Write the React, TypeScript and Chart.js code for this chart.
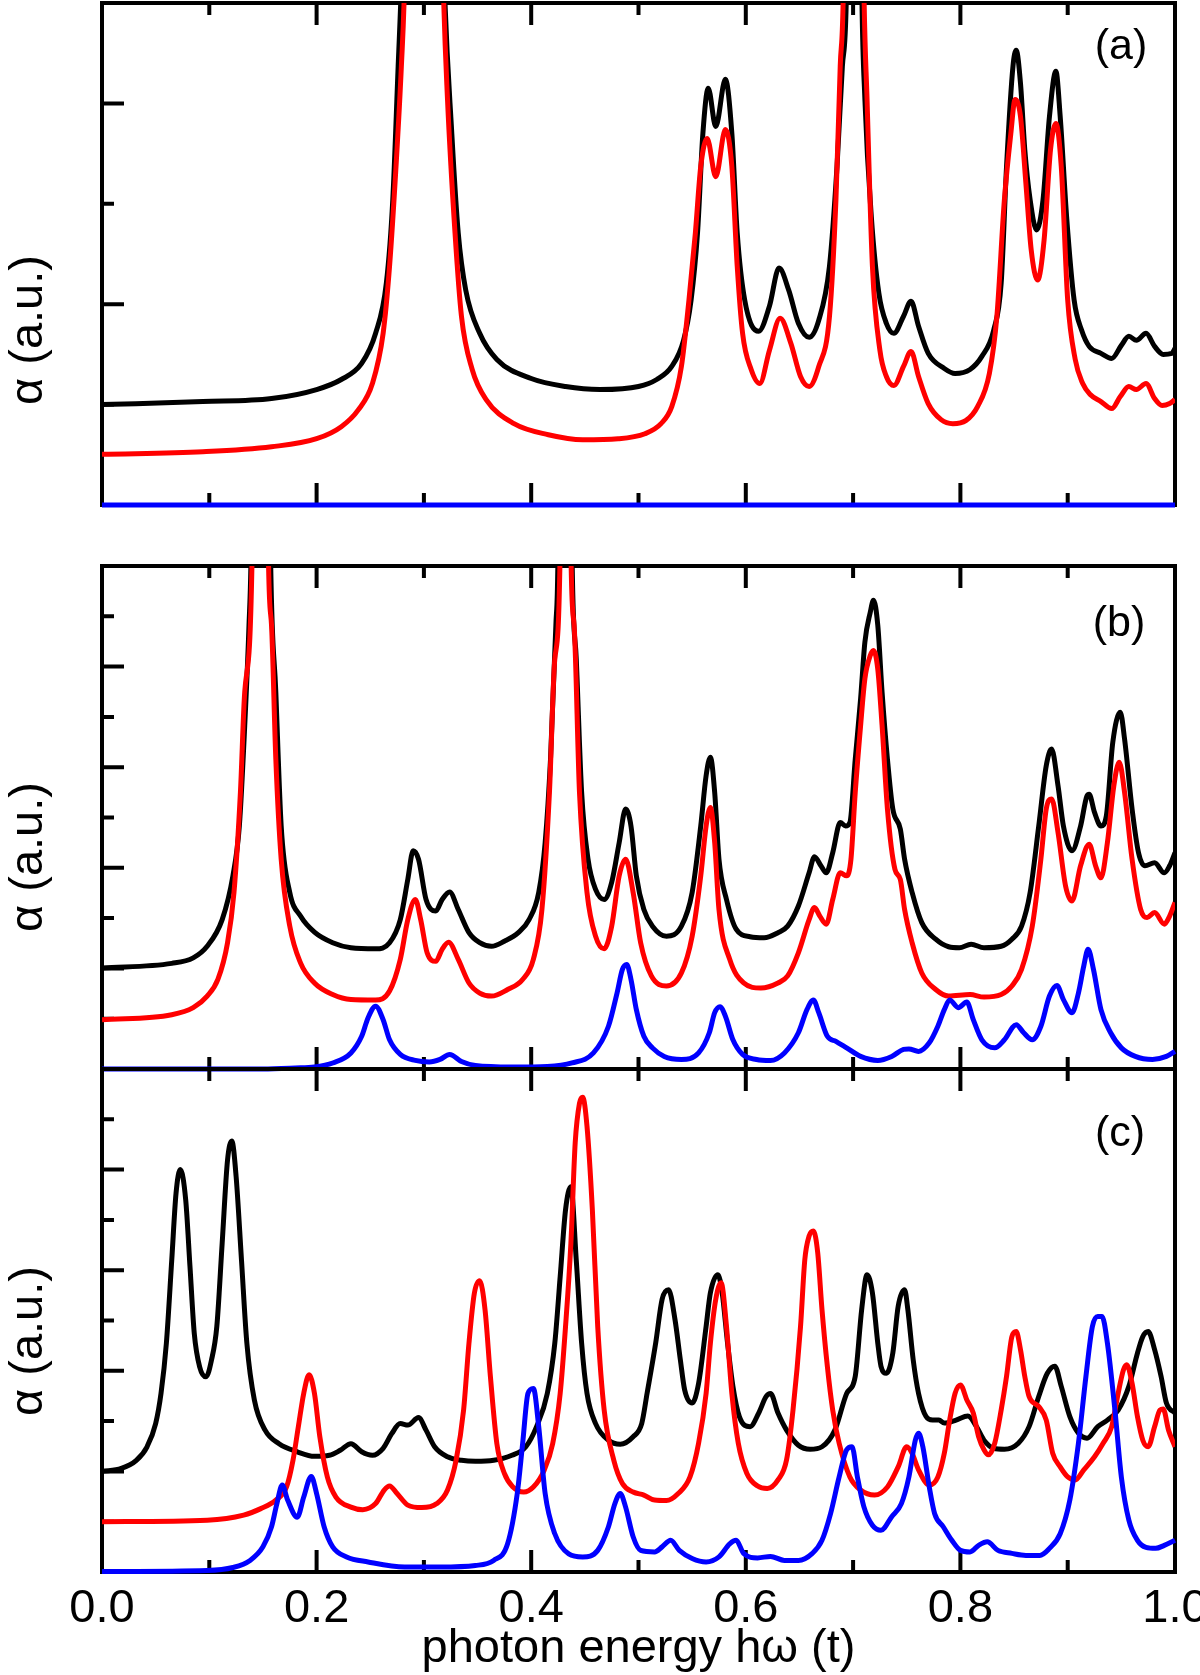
import React, { useEffect, useRef } from 'react';
import { Chart, registerables } from 'chart.js';

Chart.register(...registerables);

type Pt = [number, number];

const FONT = '"Liberation Sans", Arial, Helvetica, sans-serif';
const BLACK = '#000000';
const RED = '#ff0000';
const BLUE = '#0000ff';

// ---------- axis / text content ----------
const X_MAJOR_TICKS = [0, 0.2, 0.4, 0.6, 0.8, 1.0];
const X_MINOR_TICKS = [0.1, 0.3, 0.5, 0.7, 0.9];
const A_Y_TICKS = [1, 2, 3, 4];
const BC_Y_TICKS = [1, 2, 3, 4, 5, 6, 7, 8, 9];
const A_Y_MAX = 5;
const BC_Y_MAX = 10;
const X_TITLE = 'photon energy h\u03c9 (t)';
const Y_TITLE = '\u03b1 (a.u.)';
const PANEL_LABELS = ['(a)', '(b)', '(c)'];

// ---------- panel (a) ----------
const A_BLACK: Pt[] = [
  [0.000, 1.00], [0.094, 1.03], [0.158, 1.06], [0.200, 1.15], [0.223, 1.25], [0.242, 1.41],
  [0.255, 1.71], [0.265, 2.21], [0.271, 3.04], [0.276, 4.37], [0.279, 5.2], [0.299, 14],
  [0.319, 5.2], [0.326, 3.70], [0.332, 2.71], [0.339, 2.14], [0.352, 1.71], [0.368, 1.45],
  [0.400, 1.26], [0.432, 1.18], [0.464, 1.15], [0.500, 1.18], [0.517, 1.25], [0.531, 1.38],
  [0.542, 1.64], [0.549, 2.04], [0.555, 2.71], [0.560, 3.70], [0.565, 4.15], [0.572, 3.77],
  [0.581, 4.24], [0.587, 3.70], [0.592, 2.71], [0.599, 2.04], [0.612, 1.73], [0.622, 1.98],
  [0.631, 2.36], [0.640, 2.14], [0.649, 1.81], [0.659, 1.67], [0.668, 1.84], [0.678, 2.38],
  [0.685, 3.37], [0.690, 4.37], [0.694, 5.2], [0.701, 14], [0.708, 5.2], [0.711, 4.04],
  [0.717, 2.87], [0.724, 2.11], [0.731, 1.81], [0.738, 1.71], [0.747, 1.88], [0.754, 2.03],
  [0.761, 1.78], [0.770, 1.51], [0.785, 1.36], [0.795, 1.31], [0.809, 1.35], [0.820, 1.48],
  [0.831, 1.74], [0.838, 2.21], [0.843, 3.37], [0.849, 4.37], [0.852, 4.53], [0.856, 4.20],
  [0.860, 3.54], [0.865, 3.04], [0.871, 2.74], [0.877, 3.04], [0.883, 3.87], [0.889, 4.32],
  [0.893, 3.87], [0.899, 2.87], [0.906, 2.04], [0.913, 1.74], [0.920, 1.58], [0.931, 1.51],
  [0.941, 1.46], [0.950, 1.59], [0.957, 1.68], [0.964, 1.64], [0.973, 1.71], [0.981, 1.58],
  [0.989, 1.50], [0.997, 1.51], [1.000, 1.56],
];

const A_RED: Pt[] = [
  [0.000, 0.505], [0.094, 0.53], [0.158, 0.58], [0.200, 0.66], [0.223, 0.78], [0.239, 0.95],
  [0.252, 1.21], [0.262, 1.71], [0.268, 2.38], [0.274, 3.37], [0.279, 4.37], [0.282, 5.2],
  [0.299, 16], [0.318, 5.2], [0.322, 4.04], [0.329, 2.71], [0.335, 1.88], [0.345, 1.35],
  [0.358, 1.05], [0.384, 0.81], [0.416, 0.70], [0.448, 0.65], [0.481, 0.66], [0.506, 0.71],
  [0.521, 0.81], [0.531, 0.98], [0.540, 1.38], [0.547, 2.04], [0.553, 2.71], [0.558, 3.37],
  [0.564, 3.65], [0.572, 3.27], [0.581, 3.74], [0.587, 3.37], [0.592, 2.38], [0.597, 1.71],
  [0.605, 1.35], [0.613, 1.21], [0.622, 1.54], [0.632, 1.86], [0.642, 1.61], [0.651, 1.28],
  [0.659, 1.18], [0.668, 1.38], [0.678, 1.88], [0.684, 3.04], [0.688, 4.37], [0.691, 5.2],
  [0.700, 16], [0.710, 5.2], [0.713, 4.04], [0.718, 2.38], [0.725, 1.54], [0.731, 1.28],
  [0.738, 1.19], [0.747, 1.38], [0.754, 1.53], [0.761, 1.28], [0.770, 1.01], [0.782, 0.85],
  [0.793, 0.81], [0.805, 0.84], [0.816, 0.98], [0.827, 1.31], [0.834, 1.88], [0.841, 3.04],
  [0.847, 3.70], [0.851, 4.04], [0.856, 3.87], [0.861, 3.21], [0.866, 2.54], [0.872, 2.24],
  [0.878, 2.64], [0.884, 3.54], [0.889, 3.80], [0.894, 3.37], [0.900, 2.04], [0.907, 1.45],
  [0.914, 1.21], [0.921, 1.10], [0.931, 1.03], [0.941, 0.96], [0.949, 1.08], [0.957, 1.18],
  [0.964, 1.15], [0.973, 1.21], [0.981, 1.06], [0.988, 0.99], [0.995, 1.01], [1.000, 1.05],
];

const A_BLUE: Pt[] = [[0, 0], [1, 0]];

// ---------- panel (b) ----------
const B_BLACK: Pt[] = [
  [0.000, 2.01], [0.065, 2.10], [0.085, 2.21], [0.098, 2.44], [0.112, 2.97], [0.122, 3.84],
  [0.128, 4.83], [0.133, 6.82], [0.137, 8.82], [0.139, 10.3], [0.148, 30], [0.157, 10.3],
  [0.162, 7.49], [0.167, 4.83], [0.175, 3.51], [0.185, 3.04], [0.198, 2.72], [0.215, 2.51],
  [0.232, 2.41], [0.255, 2.39], [0.268, 2.51], [0.278, 2.97], [0.285, 3.77], [0.290, 4.34],
  [0.295, 4.17], [0.302, 3.37], [0.311, 3.14], [0.317, 3.37], [0.324, 3.52], [0.332, 3.17],
  [0.342, 2.71], [0.352, 2.51], [0.363, 2.44], [0.375, 2.54], [0.388, 2.71], [0.398, 2.97],
  [0.407, 3.51], [0.413, 4.50], [0.418, 6.16], [0.423, 8.82], [0.425, 10.3], [0.431, 30],
  [0.438, 10.3], [0.442, 8.15], [0.447, 5.50], [0.453, 4.17], [0.460, 3.57], [0.468, 3.37],
  [0.475, 3.71], [0.482, 4.50], [0.488, 5.17], [0.493, 4.83], [0.498, 3.84], [0.505, 3.17],
  [0.513, 2.84], [0.526, 2.64], [0.540, 2.84], [0.550, 3.51], [0.558, 4.83], [0.563, 5.83],
  [0.567, 6.20], [0.571, 5.50], [0.575, 4.17], [0.582, 3.37], [0.591, 2.78], [0.604, 2.63],
  [0.617, 2.61], [0.630, 2.71], [0.639, 2.84], [0.649, 3.24], [0.659, 3.90], [0.664, 4.22],
  [0.670, 4.04], [0.675, 3.90], [0.681, 4.30], [0.688, 4.90], [0.693, 4.83], [0.697, 4.90],
  [0.702, 6.16], [0.707, 7.36], [0.711, 8.49], [0.716, 9.08], [0.719, 9.32], [0.723, 8.82],
  [0.727, 7.49], [0.732, 6.16], [0.737, 5.17], [0.744, 4.77], [0.748, 4.17], [0.755, 3.51],
  [0.764, 2.91], [0.777, 2.58], [0.789, 2.43], [0.799, 2.41], [0.810, 2.48], [0.822, 2.41],
  [0.838, 2.44], [0.848, 2.58], [0.857, 2.84], [0.865, 3.51], [0.873, 4.83], [0.880, 6.03],
  [0.885, 6.36], [0.891, 5.63], [0.896, 4.83], [0.904, 4.34], [0.912, 4.83], [0.918, 5.43],
  [0.920, 5.46], [0.925, 5.10], [0.931, 4.83], [0.936, 5.03], [0.942, 6.49], [0.949, 7.09],
  [0.953, 6.56], [0.960, 5.17], [0.966, 4.30], [0.972, 4.04], [0.981, 4.10], [0.990, 3.90],
  [0.995, 4.04], [1.000, 4.30],
];

const B_RED: Pt[] = [
  [0.000, 0.98], [0.065, 1.08], [0.085, 1.22], [0.098, 1.45], [0.108, 1.78], [0.117, 2.51],
  [0.123, 3.51], [0.129, 5.50], [0.133, 7.49], [0.140, 10.3], [0.148, 35], [0.155, 10.3],
  [0.158, 8.82], [0.162, 6.16], [0.167, 4.17], [0.175, 2.84], [0.185, 2.11], [0.198, 1.71],
  [0.215, 1.48], [0.232, 1.38], [0.255, 1.37], [0.268, 1.55], [0.278, 2.18], [0.285, 2.97],
  [0.292, 3.37], [0.297, 2.97], [0.303, 2.31], [0.311, 2.14], [0.317, 2.38], [0.323, 2.52],
  [0.332, 2.18], [0.342, 1.71], [0.352, 1.51], [0.363, 1.45], [0.378, 1.58], [0.392, 1.78],
  [0.402, 2.18], [0.410, 3.17], [0.417, 5.50], [0.422, 8.15], [0.427, 10.3], [0.432, 35],
  [0.437, 10.3], [0.440, 8.82], [0.445, 5.50], [0.452, 3.51], [0.460, 2.64], [0.468, 2.39],
  [0.475, 2.84], [0.482, 3.84], [0.488, 4.17], [0.495, 3.51], [0.502, 2.51], [0.512, 1.85],
  [0.526, 1.65], [0.540, 1.91], [0.550, 2.64], [0.558, 3.84], [0.563, 4.83], [0.567, 5.20],
  [0.571, 4.50], [0.575, 3.17], [0.585, 2.18], [0.598, 1.71], [0.614, 1.61], [0.630, 1.71],
  [0.639, 1.85], [0.649, 2.31], [0.659, 2.97], [0.664, 3.21], [0.669, 3.04], [0.675, 2.88],
  [0.681, 3.37], [0.688, 3.90], [0.694, 3.84], [0.698, 4.17], [0.702, 5.50], [0.707, 6.83],
  [0.711, 7.76], [0.716, 8.22], [0.719, 8.32], [0.723, 7.95], [0.727, 6.83], [0.732, 5.17],
  [0.739, 3.97], [0.744, 3.77], [0.748, 3.17], [0.755, 2.51], [0.764, 1.91], [0.777, 1.58],
  [0.789, 1.45], [0.809, 1.48], [0.822, 1.43], [0.838, 1.48], [0.848, 1.65], [0.857, 1.98],
  [0.867, 2.84], [0.875, 4.17], [0.880, 5.17], [0.885, 5.37], [0.891, 4.70], [0.898, 3.64],
  [0.904, 3.34], [0.912, 4.04], [0.920, 4.47], [0.926, 4.04], [0.931, 3.80], [0.937, 4.50],
  [0.943, 5.63], [0.948, 6.10], [0.953, 5.50], [0.960, 4.17], [0.968, 3.17], [0.974, 3.01],
  [0.981, 3.11], [0.990, 2.88], [0.995, 3.04], [1.000, 3.31],
];

const B_BLUE: Pt[] = [
  [0.000, 0.0], [0.150, 0.0], [0.180, 0.02], [0.198, 0.04], [0.215, 0.12], [0.232, 0.32],
  [0.242, 0.65], [0.248, 1.02], [0.255, 1.25], [0.262, 0.98], [0.268, 0.58], [0.278, 0.29],
  [0.292, 0.17], [0.305, 0.14], [0.315, 0.19], [0.324, 0.29], [0.335, 0.15], [0.348, 0.07],
  [0.382, 0.04], [0.415, 0.05], [0.438, 0.12], [0.458, 0.32], [0.472, 0.85], [0.480, 1.51],
  [0.485, 1.98], [0.489, 2.08], [0.493, 1.78], [0.498, 1.18], [0.505, 0.65], [0.513, 0.42],
  [0.524, 0.25], [0.540, 0.19], [0.556, 0.32], [0.566, 0.72], [0.571, 1.12], [0.576, 1.24],
  [0.581, 1.05], [0.588, 0.58], [0.597, 0.29], [0.610, 0.19], [0.623, 0.17], [0.636, 0.32],
  [0.649, 0.72], [0.657, 1.18], [0.663, 1.37], [0.668, 1.12], [0.676, 0.65], [0.684, 0.55],
  [0.694, 0.42], [0.707, 0.25], [0.723, 0.17], [0.736, 0.25], [0.747, 0.39], [0.752, 0.40],
  [0.761, 0.35], [0.771, 0.52], [0.779, 0.85], [0.785, 1.18], [0.790, 1.37], [0.798, 1.22],
  [0.806, 1.33], [0.812, 0.98], [0.820, 0.58], [0.832, 0.42], [0.841, 0.58], [0.852, 0.88],
  [0.859, 0.72], [0.867, 0.58], [0.875, 0.85], [0.883, 1.45], [0.890, 1.66], [0.896, 1.38],
  [0.904, 1.12], [0.910, 1.51], [0.915, 2.05], [0.919, 2.38], [0.924, 1.98], [0.931, 1.18],
  [0.940, 0.72], [0.950, 0.42], [0.963, 0.25], [0.979, 0.19], [0.992, 0.25], [1.000, 0.35],
];

// ---------- panel (c) ----------
const C_BLACK: Pt[] = [
  [0.000, 2.00], [0.018, 2.06], [0.032, 2.22], [0.042, 2.49], [0.050, 2.95], [0.055, 3.55],
  [0.060, 4.55], [0.065, 6.20], [0.069, 7.53], [0.073, 8.00], [0.078, 7.40], [0.082, 6.07],
  [0.086, 4.74], [0.091, 4.08], [0.097, 3.88], [0.102, 4.21], [0.107, 4.88], [0.112, 6.54],
  [0.117, 8.19], [0.121, 8.57], [0.125, 7.86], [0.130, 6.20], [0.135, 4.55], [0.142, 3.42],
  [0.152, 2.82], [0.165, 2.55], [0.182, 2.39], [0.198, 2.30], [0.212, 2.32], [0.222, 2.42],
  [0.232, 2.55], [0.242, 2.39], [0.252, 2.32], [0.262, 2.46], [0.270, 2.75], [0.278, 2.95],
  [0.285, 2.92], [0.295, 3.07], [0.302, 2.82], [0.310, 2.49], [0.322, 2.29], [0.335, 2.22],
  [0.348, 2.20], [0.365, 2.22], [0.382, 2.32], [0.395, 2.49], [0.405, 2.89], [0.415, 3.55],
  [0.422, 4.55], [0.427, 5.87], [0.432, 7.20], [0.437, 7.66], [0.442, 6.20], [0.447, 4.55],
  [0.452, 3.55], [0.460, 2.95], [0.472, 2.62], [0.483, 2.54], [0.495, 2.69], [0.503, 2.95],
  [0.508, 3.55], [0.516, 4.55], [0.522, 5.42], [0.528, 5.61], [0.534, 5.02], [0.539, 4.22],
  [0.543, 3.62], [0.550, 3.36], [0.556, 3.75], [0.563, 4.88], [0.567, 5.55], [0.574, 5.91],
  [0.578, 5.55], [0.583, 4.55], [0.588, 3.69], [0.594, 3.09], [0.604, 2.89], [0.612, 3.16],
  [0.619, 3.49], [0.623, 3.55], [0.630, 3.16], [0.638, 2.82], [0.649, 2.52], [0.660, 2.44],
  [0.671, 2.49], [0.683, 2.82], [0.694, 3.55], [0.702, 3.89], [0.708, 5.22], [0.713, 5.91],
  [0.718, 5.55], [0.723, 4.55], [0.726, 4.09], [0.731, 3.95], [0.737, 4.35], [0.742, 5.28],
  [0.748, 5.61], [0.751, 5.22], [0.756, 4.22], [0.761, 3.55], [0.768, 3.09], [0.774, 3.02],
  [0.780, 3.02], [0.785, 2.96], [0.796, 3.02], [0.807, 3.10], [0.815, 2.89], [0.822, 2.62],
  [0.831, 2.46], [0.841, 2.44], [0.854, 2.56], [0.864, 2.89], [0.873, 3.49], [0.881, 3.95],
  [0.888, 4.09], [0.894, 3.69], [0.902, 3.09], [0.910, 2.76], [0.918, 2.66], [0.928, 2.89],
  [0.937, 3.02], [0.947, 3.22], [0.957, 3.69], [0.965, 4.35], [0.970, 4.68], [0.975, 4.78],
  [0.981, 4.42], [0.987, 3.89], [0.992, 3.36], [1.000, 3.16],
];

const C_RED: Pt[] = [
  [0.000, 1.00], [0.098, 1.03], [0.132, 1.13], [0.148, 1.26], [0.162, 1.43], [0.172, 1.69],
  [0.178, 2.22], [0.183, 2.89], [0.188, 3.55], [0.193, 3.92], [0.198, 3.55], [0.203, 2.69],
  [0.210, 1.89], [0.218, 1.49], [0.232, 1.29], [0.243, 1.24], [0.255, 1.36], [0.263, 1.63],
  [0.268, 1.71], [0.275, 1.56], [0.285, 1.33], [0.298, 1.28], [0.312, 1.36], [0.322, 1.63],
  [0.330, 2.22], [0.337, 3.22], [0.342, 4.55], [0.347, 5.54], [0.352, 5.79], [0.357, 5.21],
  [0.362, 3.88], [0.368, 2.55], [0.375, 1.96], [0.383, 1.69], [0.393, 1.59], [0.402, 1.69],
  [0.412, 2.02], [0.420, 2.55], [0.427, 3.55], [0.432, 4.88], [0.437, 6.54], [0.441, 8.53],
  [0.445, 9.32], [0.448, 9.44], [0.452, 8.86], [0.457, 7.20], [0.462, 4.88], [0.468, 3.22],
  [0.477, 2.22], [0.485, 1.76], [0.495, 1.59], [0.505, 1.53], [0.515, 1.43], [0.526, 1.42],
  [0.537, 1.56], [0.548, 1.89], [0.556, 2.56], [0.563, 3.55], [0.567, 4.55], [0.572, 5.42],
  [0.577, 5.75], [0.582, 4.88], [0.587, 3.55], [0.593, 2.56], [0.601, 1.96], [0.611, 1.71],
  [0.620, 1.66], [0.630, 1.83], [0.638, 2.23], [0.644, 3.22], [0.651, 4.88], [0.655, 6.21],
  [0.659, 6.68], [0.663, 6.78], [0.667, 6.35], [0.671, 5.22], [0.676, 4.09], [0.681, 3.22],
  [0.687, 2.56], [0.697, 1.89], [0.707, 1.63], [0.720, 1.53], [0.732, 1.69], [0.742, 2.09],
  [0.750, 2.49], [0.755, 2.36], [0.761, 2.03], [0.771, 1.73], [0.779, 1.89], [0.785, 2.36],
  [0.790, 3.02], [0.795, 3.55], [0.800, 3.72], [0.806, 3.42], [0.812, 3.16], [0.817, 2.69],
  [0.822, 2.43], [0.826, 2.33], [0.832, 2.56], [0.838, 3.22], [0.843, 3.89], [0.848, 4.68],
  [0.852, 4.78], [0.856, 4.42], [0.860, 3.89], [0.864, 3.49], [0.873, 3.29], [0.880, 3.02],
  [0.886, 2.36], [0.893, 2.09], [0.900, 1.89], [0.907, 1.83], [0.915, 2.03], [0.925, 2.29],
  [0.933, 2.56], [0.941, 2.89], [0.947, 3.55], [0.952, 4.02], [0.955, 4.12], [0.960, 3.75],
  [0.965, 3.09], [0.970, 2.62], [0.975, 2.49], [0.981, 2.89], [0.986, 3.22], [0.989, 3.24],
  [0.994, 2.82], [1.000, 2.49],
];

const C_BLUE: Pt[] = [
  [0.000, 0.01], [0.098, 0.03], [0.122, 0.09], [0.138, 0.23], [0.150, 0.50], [0.158, 0.90],
  [0.163, 1.36], [0.168, 1.73], [0.173, 1.43], [0.182, 1.09], [0.188, 1.49], [0.195, 1.90],
  [0.200, 1.56], [0.207, 0.90], [0.215, 0.50], [0.228, 0.30], [0.248, 0.20], [0.282, 0.10],
  [0.315, 0.10], [0.348, 0.13], [0.365, 0.23], [0.378, 0.56], [0.387, 1.56], [0.392, 2.55],
  [0.397, 3.55], [0.402, 3.65], [0.407, 2.89], [0.413, 1.56], [0.422, 0.76], [0.435, 0.36],
  [0.448, 0.30], [0.462, 0.43], [0.472, 0.90], [0.478, 1.36], [0.483, 1.56], [0.488, 1.29],
  [0.495, 0.70], [0.502, 0.43], [0.515, 0.40], [0.522, 0.50], [0.530, 0.63], [0.538, 0.43],
  [0.550, 0.27], [0.563, 0.20], [0.575, 0.30], [0.585, 0.56], [0.591, 0.63], [0.598, 0.37],
  [0.611, 0.28], [0.623, 0.31], [0.636, 0.23], [0.649, 0.23], [0.662, 0.37], [0.671, 0.63],
  [0.679, 1.16], [0.687, 1.89], [0.694, 2.43], [0.699, 2.49], [0.704, 1.89], [0.710, 1.30],
  [0.718, 0.93], [0.726, 0.83], [0.736, 1.10], [0.745, 1.36], [0.752, 1.89], [0.758, 2.62],
  [0.761, 2.76], [0.765, 2.49], [0.771, 1.69], [0.776, 1.16], [0.784, 0.90], [0.792, 0.63],
  [0.800, 0.43], [0.809, 0.40], [0.817, 0.53], [0.825, 0.60], [0.835, 0.43], [0.848, 0.37],
  [0.861, 0.33], [0.874, 0.33], [0.883, 0.47], [0.893, 0.76], [0.902, 1.43], [0.910, 2.56],
  [0.917, 3.89], [0.923, 4.88], [0.928, 5.08], [0.932, 5.08], [0.937, 4.55], [0.944, 3.22],
  [0.950, 1.89], [0.957, 1.03], [0.965, 0.63], [0.973, 0.49], [0.982, 0.47], [0.990, 0.53],
  [1.000, 0.63],
];

// ---------- layout of the three stacked panels (pixels) ----------
type PanelCfg = {
  top: number;
  height: number;
  padTop: number;
  padBottom: number;
  yMax: number;
  yTicks: number[];
  black: Pt[];
  red: Pt[];
  blue: Pt[];
  label: string;
  labelDx: number;
  labelDy: number;
  yTitleY: number;
  showX: boolean;
};

const PANELS: PanelCfg[] = [
  { top: 0, height: 540, padTop: 3, padBottom: 35, yMax: A_Y_MAX, yTicks: A_Y_TICKS,
    black: A_BLACK, red: A_RED, blue: A_BLUE, label: PANEL_LABELS[0], labelDx: 54, labelDy: 44,
    yTitleY: 330, showX: false },
  { top: 540, height: 540, padTop: 26, padBottom: 11, yMax: BC_Y_MAX, yTicks: BC_Y_TICKS,
    black: B_BLACK, red: B_RED, blue: B_BLUE, label: PANEL_LABELS[1], labelDx: 56, labelDy: 58,
    yTitleY: 317, showX: false },
  { top: 1060, height: 615, padTop: 9, padBottom: 0, yMax: BC_Y_MAX, yTicks: BC_Y_TICKS,
    black: C_BLACK, red: C_RED, blue: C_BLUE, label: PANEL_LABELS[2], labelDx: 55, labelDy: 65,
    yTitleY: 281, showX: true },
];

const LINE_W = 5;

const frameTicksPlugin = {
  id: 'frameTicks',
  beforeDatasetsDraw(chart: any, _args: any, opts: any) {
    const { ctx, chartArea } = chart;
    const { left, right, top, bottom } = chartArea;
    const xs = chart.scales.x;
    const ys = chart.scales.y;
    ctx.save();
    ctx.strokeStyle = BLACK;
    ctx.lineCap = 'butt';
    ctx.lineWidth = 4;
    ctx.beginPath();
    const xTicks = [...X_MAJOR_TICKS, ...X_MINOR_TICKS];
    for (const v of xTicks) {
      if (v <= 0 || v >= 1) continue;
      const len = X_MAJOR_TICKS.includes(v) ? 22 : 12;
      const px = xs.getPixelForValue(v);
      ctx.moveTo(px, bottom);
      ctx.lineTo(px, bottom - len);
      ctx.moveTo(px, top);
      ctx.lineTo(px, top + len);
    }
    for (const v of opts.yTicks as number[]) {
      const len = v % 2 === 0 ? 22 : 12;
      const py = ys.getPixelForValue(v);
      ctx.moveTo(left, py);
      ctx.lineTo(left + len, py);
    }
    ctx.stroke();
    ctx.lineWidth = 4;
    ctx.strokeRect(left, top, right - left, bottom - top);
    ctx.restore();
  },
  afterDraw(chart: any, _args: any, opts: any) {
    const { ctx, chartArea } = chart;
    ctx.save();
    ctx.fillStyle = BLACK;
    ctx.textAlign = 'center';
    ctx.textBaseline = 'middle';
    ctx.font = `43px ${FONT}`;
    ctx.fillText(opts.label, chartArea.right - opts.labelDx, chartArea.top + opts.labelDy);
    ctx.font = `47px ${FONT}`;
    ctx.translate(29, opts.yTitleY);
    ctx.rotate(-Math.PI / 2);
    ctx.fillText(Y_TITLE, 0, 0);
    ctx.restore();
  },
};

const toXY = (pts: Pt[]) => pts.map(([x, y]) => ({ x, y }));

function Panel({ cfg }: { cfg: PanelCfg }) {
  const ref = useRef<HTMLCanvasElement>(null);
  useEffect(() => {
    if (!ref.current) return;
    const xScale: any = cfg.showX
      ? {
          type: 'linear',
          min: 0,
          max: 1,
          display: true,
          grid: { display: false, drawTicks: false },
          border: { display: false },
          afterBuildTicks: (s: any) => {
            s.ticks = X_MAJOR_TICKS.map((v) => ({ value: v }));
          },
          ticks: {
            callback: (v: any) => Number(v).toFixed(1),
            font: { family: FONT, size: 47 },
            color: BLACK,
            padding: 9,
            maxRotation: 0,
            autoSkip: false,
          },
          title: {
            display: true,
            text: X_TITLE,
            font: { family: FONT, size: 47, lineHeight: 1 },
            color: BLACK,
            padding: { top: 0, bottom: 2 },
          },
          afterFit: (s: any) => {
            s.height = 103;
            s.paddingLeft = 0;
            s.paddingRight = 0;
          },
        }
      : { type: 'linear', min: 0, max: 1, display: false };

    const chart = new Chart(ref.current, {
      type: 'line',
      data: {
        datasets: [
          {
            data: toXY(cfg.blue),
            borderColor: BLUE,
            borderWidth: LINE_W,
            order: 0,
            clip: { left: 3, right: 3, top: 3, bottom: 4 },
          },
          { data: toXY(cfg.red), borderColor: RED, borderWidth: LINE_W, order: 1 },
          { data: toXY(cfg.black), borderColor: BLACK, borderWidth: LINE_W, order: 2 },
        ] as any,
      },
      options: {
        animation: false,
        responsive: false,
        events: [],
        layout: { padding: { left: 102, right: 25, top: cfg.padTop, bottom: cfg.padBottom } },
        elements: {
          point: { radius: 0 },
          line: { borderWidth: LINE_W, cubicInterpolationMode: 'monotone', fill: false },
        },
        plugins: {
          legend: { display: false },
          tooltip: { enabled: false },
          frameTicks: {
            yTicks: cfg.yTicks,
            label: cfg.label,
            labelDx: cfg.labelDx,
            labelDy: cfg.labelDy,
            yTitleY: cfg.yTitleY,
          },
        } as any,
        scales: {
          x: xScale,
          y: { type: 'linear', min: 0, max: cfg.yMax, display: false },
        },
      },
      plugins: [frameTicksPlugin as any],
    });
    return () => chart.destroy();
  }, [cfg]);
  return (
    <canvas
      ref={ref}
      width={1200}
      height={cfg.height}
      style={{ position: 'absolute', left: 0, top: cfg.top, width: 1200, height: cfg.height }}
    />
  );
}

export default function App() {
  return (
    <div
      style={{
        position: 'absolute',
        left: 0,
        top: 0,
        width: 1200,
        height: 1675,
        overflow: 'hidden',
        background: '#ffffff',
      }}
    >
      {PANELS.map((p, i) => (
        <Panel key={i} cfg={p} />
      ))}
    </div>
  );
}
